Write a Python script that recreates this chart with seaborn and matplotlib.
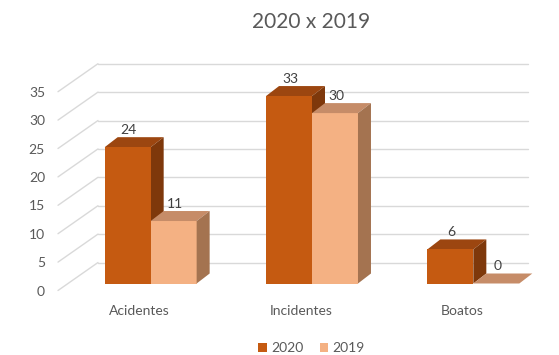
import matplotlib
matplotlib.use("Agg")
import matplotlib.pyplot as plt
import matplotlib.colors as mcolors
import seaborn as sns
import pandas as pd
from matplotlib.patches import Polygon, Patch
from matplotlib.lines import Line2D

# ---- data ----
categories = ["Acidentes", "Incidentes", "Boatos"]
series_names = ["2020", "2019"]
values_2020 = [24, 33, 6]
values_2019 = [11, 30, 0]
y_ticks = [0, 5, 10, 15, 20, 25, 30, 35]
title = "2020 x 2019"

df = pd.DataFrame({
    "categoria": categories * 2,
    "ano": [series_names[0]] * len(categories) + [series_names[1]] * len(categories),
    "valor": values_2020 + values_2019,
})
values = {"2020": values_2020, "2019": values_2019}

sns.set_theme(style="white")
plt.rcParams["font.family"] = ["Lato", "DejaVu Sans"]

TXT = "#595959"
GRID = "#D9D9D9"
front_c = {"2020": "#C55A11", "2019": "#F4B183"}
top_c = {"2020": "#9C4610", "2019": "#C68C68"}
side_c = {"2020": "#7E380B", "2019": "#A47350"}

W, H = 559, 355
fig = plt.figure(figsize=(W / 100, H / 100), dpi=100)
fig.patch.set_facecolor("white")
ax = fig.add_axes([70 / W, (H - 283.5) / H, 484 / W, 198.8 / H])

sns.barplot(data=df, x="categoria", y="valor", hue="ano", hue_order=series_names,
            order=categories, palette=front_c, width=0.57, gap=0, saturation=1,
            errorbar=None, linewidth=0, ax=ax)

ax.set_xlim(-0.5, 2.5)
ax.set_ylim(0, 35)

leg = ax.get_legend()
if leg is not None:
    leg.remove()
ax.set_axis_off()

px_x = ax.bbox.width / 3.0
px_y = ax.bbox.height / 35.0

# back wall grid + side-wall diagonals
for v in y_ticks:
    yb = v + 21 / px_y
    ax.add_line(Line2D([-0.5 + 28 / px_x, 2.34], [yb, yb], color=GRID, lw=1,
                       zorder=0.5, clip_on=False))
    ax.add_line(Line2D([-0.5 - 12 / px_x, -0.5 + 28 / px_x], [v - 7 / px_y, yb],
                       color=GRID, lw=1, zorder=0.5, clip_on=False))
    ax.text(-0.5 - 25 / px_x, v - 8 / px_y, str(v), ha="right", va="center",
            fontsize=10, color=TXT, clip_on=False)

# 3D faces of bars
dx = 13 / px_x
dy = 10 / px_y
hex_to_name = {mcolors.to_hex(c): n for n, c in front_c.items()}
for p in list(ax.patches):
    name = hex_to_name.get(mcolors.to_hex(p.get_facecolor()))
    if name is None or p.get_width() <= 0:
        continue
    x0, y0, w, h = p.get_x(), p.get_y(), p.get_width(), p.get_height()
    y1 = y0 + h
    z = 1.5 if name == "2020" else 2.5
    p.set_zorder(2)
    top = Polygon([(x0, y1), (x0 + w, y1), (x0 + w + dx, y1 + dy), (x0 + dx, y1 + dy)],
                  closed=True, facecolor=top_c[name], edgecolor="none", zorder=z, clip_on=False)
    side = Polygon([(x0 + w, y0), (x0 + w + dx, y0 + dy), (x0 + w + dx, y1 + dy), (x0 + w, y1)],
                   closed=True, facecolor=side_c[name], edgecolor="none", zorder=z, clip_on=False)
    ax.add_patch(top)
    ax.add_patch(side)
    ci = int(round(x0 + w / 2 + (0.1425 if name == "2020" else -0.1425)))
    val = values[name][ci]
    ax.text(x0 + w / 2 + 1 / px_x, y1 + dy + 1 / px_y, str(val), ha="center", va="bottom",
            fontsize=10, color="#404040", zorder=4, clip_on=False)

# category labels
for i, cat in enumerate(categories):
    ax.text(i - 11 / px_x, -27.5 / px_y, cat, ha="center", va="center",
            fontsize=10, color=TXT, clip_on=False)

fig.text(311 / W, 1 - 22 / H, title, ha="center", va="center", fontsize=15, color=TXT)

handles = [Patch(facecolor=front_c[n], edgecolor="none") for n in series_names]
fig.legend(handles, series_names, loc="center", bbox_to_anchor=(311.5 / W, 1 - 348 / H),
           ncol=2, frameon=False, fontsize=10, handlelength=0.6, handleheight=0.6,
           handletextpad=0.3, columnspacing=1.2, labelcolor=TXT)

fig.savefig("out.png", dpi=100)
